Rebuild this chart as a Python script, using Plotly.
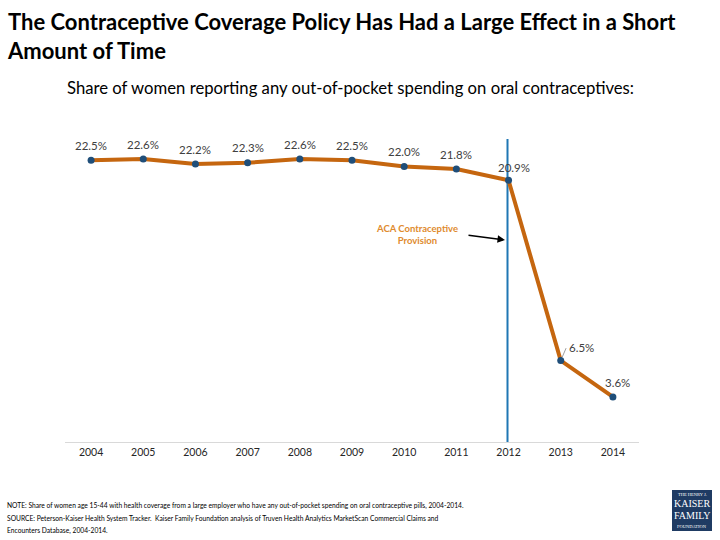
import plotly.graph_objects as go

years = ["2004", "2005", "2006", "2007", "2008", "2009", "2010", "2011", "2012", "2013", "2014"]
share = [22.5, 22.6, 22.2, 22.3, 22.6, 22.5, 22.0, 21.8, 20.9, 6.5, 3.6]
labels = ["22.5%", "22.6%", "22.2%", "22.3%", "22.6%", "22.5%", "22.0%", "21.8%", "20.9%", "6.5%", "3.6%"]
policy_year = "2012"

FONT = "Lato"
L, R, T, B = 65, 639, 129, 442


def px(x):
    return (x - L) / (R - L)


def py(y):
    return (B - y) / (B - T)


fig = go.Figure()
fig.add_trace(go.Scatter(
    x=years, y=share, mode="lines+markers",
    line=dict(color="#C5660F", width=4),
    marker=dict(color="#1F4E79", size=7),
    hoverinfo="skip", showlegend=False,
))

pidx = years.index(policy_year)

# vertical policy line
fig.add_shape(type="line", xref="x", yref="y", x0=pidx - 0.02, x1=pidx - 0.02,
              y0=0, y1=24.2, line=dict(color="#1F77B4", width=2), layer="below")

# data labels
offsets = {8: (5, 13), 9: (21, 13), 10: (5, 14)}
for i, (v, t) in enumerate(zip(share, labels)):
    dx, dy = offsets.get(i, (0, 15))
    fig.add_annotation(x=i, y=v, text=t, showarrow=False, xshift=dx, yshift=dy,
                       xanchor="center", yanchor="middle",
                       font=dict(family=FONT, size=11.5, color="#404040"))

# leader line for 6.5%
fig.add_annotation(x=9, y=share[9], ax=6, ay=-14, text="", showarrow=True,
                   arrowhead=0, arrowwidth=1, arrowcolor="#A0A0A0", standoff=4)

# ACA annotation
fig.add_annotation(x=px(505), y=py(240), xref="paper", yref="paper",
                   ax=-38, ay=-5, axref="pixel", ayref="pixel",
                   text="", showarrow=True, arrowhead=2, arrowsize=1, arrowwidth=1.5,
                   arrowcolor="black", standoff=0)
fig.add_annotation(x=px(417), y=py(234), xref="paper", yref="paper",
                   text="<b>ACA Contraceptive<br>Provision</b>", showarrow=False,
                   xanchor="center", yanchor="middle",
                   font=dict(family=FONT, size=9.5, color="#E08B2E"), align="center")

# titles
fig.add_annotation(x=px(5), y=py(36), xref="paper", yref="paper",
                   text="<b>The Contraceptive Coverage Policy Has Had a Large Effect in a Short<br>Amount of Time</b>",
                   showarrow=False, xanchor="left", yanchor="middle", align="left",
                   font=dict(family=FONT, size=22, color="black"))
fig.add_annotation(x=px(65), y=py(88), xref="paper", yref="paper",
                   text="Share of women reporting any out-of-pocket spending on oral contraceptives:",
                   showarrow=False, xanchor="left", yanchor="middle",
                   font=dict(family=FONT, size=16.7, color="black"))

notes = [
    "NOTE: Share of women age 15-44 with health coverage from a large employer who have any out-of-pocket spending on oral contraceptive pills, 2004-2014.",
    "SOURCE: Peterson-Kaiser Health System Tracker.  Kaiser Family Foundation analysis of Truven Health Analytics MarketScan Commercial Claims and",
    "Encounters Database, 2004-2014.",
]
for k, line in enumerate(notes):
    fig.add_annotation(x=px(5), y=py(505 + 12.5 * k), xref="paper", yref="paper",
                       text=line, showarrow=False, xanchor="left", yanchor="middle",
                       font=dict(family=FONT, size=6.7, color="black"))

# logo
fig.add_shape(type="rect", xref="paper", yref="paper",
              x0=px(672), x1=px(712), y0=py(531), y1=py(490),
              fillcolor="#1F3B63", line=dict(width=0))
logo = [("THE HENRY J.", 4.5, 494.5), ("KAISER", 10, 504), ("FAMILY", 10, 515), ("FOUNDATION", 4.5, 526)]
for txt, sz, yy in logo:
    fig.add_annotation(x=px(692), y=py(yy), xref="paper", yref="paper", text=txt,
                       showarrow=False, xanchor="center", yanchor="middle",
                       font=dict(family="Liberation Serif", size=sz, color="white"))

fig.update_layout(
    width=720, height=540,
    margin=dict(l=L, r=720 - R, t=T, b=540 - B),
    plot_bgcolor="white", paper_bgcolor="white",
    xaxis=dict(type="category", range=[-0.5, 10.5], showgrid=False, zeroline=False,
               showline=True, linecolor="#D9D9D9", linewidth=1, ticks="",
               tickfont=dict(family=FONT, size=10.5, color="#262626")),
    yaxis=dict(range=[0, 25], visible=False),
)

fig.write_html("out.html", config={"displayModeBar": False},
               post_script="document.body.style.margin='0';document.body.style.overflow='hidden';")
